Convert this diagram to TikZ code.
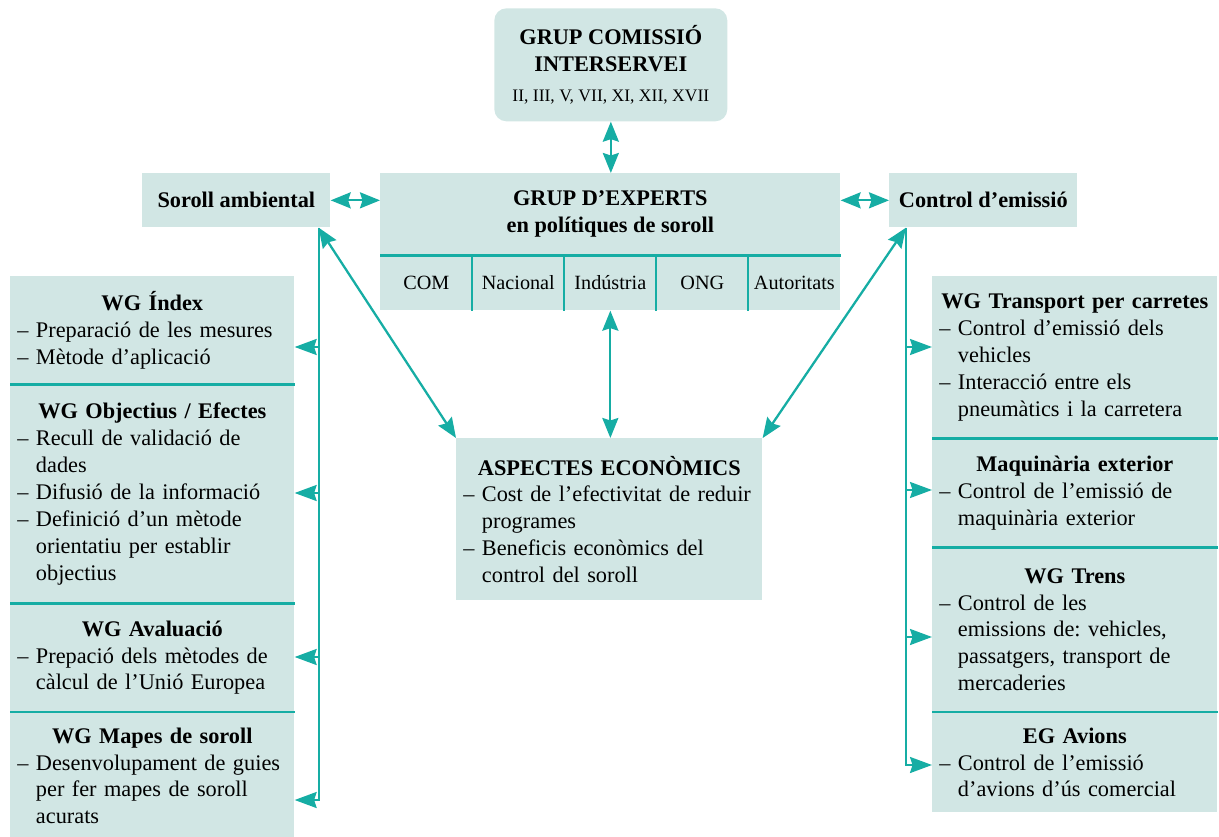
\documentclass[tikz,border=0pt]{standalone}
\usepackage{fontspec}
\setmainfont{Liberation Serif}
\usetikzlibrary{arrows.meta}
\definecolor{boxfill}{RGB}{209,230,228}
\definecolor{tealline}{RGB}{22,173,164}
\frenchspacing
\newcommand{\bodyfont}{\fontsize{12.7}{15.3}\selectfont}
\newcommand{\cellfont}{\fontsize{11.5}{14}\selectfont}
\newcommand{\romanfont}{\fontsize{10}{12}\selectfont}
\newcommand{\wgtitle}[1]{{\centering\bfseries\noindent #1\par}}
\newcommand{\wgitem}[1]{\par\noindent–\ #1}
\newcommand{\wgcont}[1]{\par\noindent\hphantom{–\ }#1}
\tikzset{
  panel/.style={fill=boxfill, inner sep=0pt, font=\bodyfont},
  headbox/.style={panel, anchor=north west, align=center, font=\bodyfont\bfseries},
  wgblock/.style={panel, anchor=north west, align=left, inner xsep=0.14cm},
  leftcol/.style={wgblock, text width=5.40cm},
  rightcol/.style={wgblock, text width=5.42cm},
  cell/.style={panel, anchor=north west, minimum width=1.84cm, minimum height=1.10cm, font=\cellfont},
  sepline/.style={draw=tealline, line width=1.6pt},
  conn/.style={color=tealline, line width=1.3pt},
  twoway/.style={conn, {Stealth[length=4mm,width=3.2mm,inset=0.5mm]}-{Stealth[length=4mm,width=3.2mm,inset=0.5mm]}},
  feed/.style={conn, -{Stealth[length=4.4mm,width=3.2mm,inset=0.5mm]}},
}

\begin{document}
\begin{tikzpicture}[x=0.02cm, y=-0.02cm]
  \useasboundingbox (0,0) rectangle (1219,837);

  % top and middle row
  \node[headbox, rounded corners=0.24cm, minimum width=4.66cm, minimum height=2.26cm] (comissio) at (494,8)
    {GRUP COMISSIÓ\\INTERSERVEI\\[2pt]{\romanfont\mdseries II, III, V, VII, XI, XII, XVII}};
  \node[headbox, minimum width=9.2cm, minimum height=1.64cm] (experts) at (380,173) {GRUP D’EXPERTS\\en polítiques de soroll};
  \node[headbox, minimum width=3.76cm, minimum height=1.08cm] (soroll) at (142,173) {Soroll ambiental};
  \node[headbox, minimum width=3.76cm, minimum height=1.08cm] (emissio) at (889,173) {Control d’emissió};
  \foreach \lbl [count=\i from 0] in {COM,Nacional,Indústria,ONG,Autoritats}
    \node[cell] (cell\i) at (380+92*\i,255) {\lbl};

  \node[wgblock, text width=5.84cm, minimum height=3.24cm] (aspectes) at (456,438)
    {\wgtitle{ASPECTES ECONÒMICS}\wgitem{Cost de l’efectivitat de reduir}\wgcont{programes}%
     \wgitem{Beneficis econòmics del}\wgcont{control del soroll}};

  % left column
  \node[leftcol, minimum height=2.16cm] (index) at (10,276)
    {\wgtitle{WG Índex}\wgitem{Preparació de les mesures}\wgitem{Mètode d’aplicació}};
  \node[leftcol, minimum height=4.36cm] (objectius) at (index.south west)
    {\wgtitle{WG Objectius / Efectes}\wgitem{Recull de validació de}\wgcont{dades}%
     \wgitem{Difusió de la informació}\wgitem{Definició d’un mètode}\wgcont{orientatiu per establir}\wgcont{objectius}};
  \node[leftcol, minimum height=2.16cm] (avaluacio) at (objectius.south west)
    {\wgtitle{WG Avaluació}\wgitem{Prepació dels mètodes de}\wgcont{càlcul de l’Unió Europea}};
  \node[leftcol, minimum height=2.54cm] (mapes) at (avaluacio.south west)
    {\wgtitle{WG Mapes de soroll}\wgitem{Desenvolupament de guies}\wgcont{per fer mapes de soroll}\wgcont{acurats}};

  % right column
  \node[rightcol, minimum height=3.24cm] (transport) at (932,276)
    {\wgtitle{WG Transport per carretes}\wgitem{Control d’emissió dels}\wgcont{vehicles}%
     \wgitem{Interacció entre els}\wgcont{pneumàtics i la carretera}};
  \node[rightcol, minimum height=2.16cm] (maquinaria) at (transport.south west)
    {\wgtitle{Maquinària exterior}\wgitem{Control de l’emissió de}\wgcont{maquinària exterior}};
  \node[rightcol, minimum height=3.28cm] (trens) at (maquinaria.south west)
    {\wgtitle{WG Trens}\wgitem{Control de les}\wgcont{emissions de: vehicles,}\wgcont{passatgers, transport de}\wgcont{mercaderies}};
  \node[rightcol, minimum height=2.00cm] (avions) at (trens.south west)
    {\wgtitle{EG Avions}\wgitem{Control de l’emissió}\wgcont{d’avions d’ús comercial}};

  % separators
  \draw[sepline] (experts.south west) -- (experts.south east);
  \foreach \i in {1,...,4}
    \draw[sepline] (cell\i.north west) -- (cell\i.south west);
  \foreach \blk in {index,objectius,avaluacio,transport,maquinaria,trens}
    \draw[sepline] (\blk.south west) -- (\blk.south east);

  % connectors
  \coordinate (ltrunk) at ([xshift=-0.24cm]soroll.south east);
  \coordinate (rtrunk) at ([xshift=0.34cm]emissio.south west);
  \draw[twoway] (comissio.south) -- (comissio.south |- experts.north);
  \draw[twoway] (soroll.east) -- (soroll.east -| experts.west);
  \draw[twoway] (emissio.west) -- (emissio.west -| experts.east);
  \draw[twoway] (cell2.south) -- (cell2.south |- aspectes.north);
  \draw[twoway] (ltrunk) -- (aspectes.north west);
  \draw[twoway] (rtrunk) -- (aspectes.north east);

  \draw[feed] (ltrunk) -- (ltrunk |- 0,800) -- (mapes.east |- 0,800);
  \foreach \blk/\yy in {index/347, objectius/493, avaluacio/657}
    \draw[feed] (ltrunk |- 0,\yy) -- (\blk.east |- 0,\yy);
  \draw[feed] (rtrunk) -- (rtrunk |- 0,765) -- (avions.west |- 0,765);
  \foreach \blk/\yy in {transport/347, maquinaria/490, trens/637}
    \draw[feed] (rtrunk |- 0,\yy) -- (\blk.west |- 0,\yy);
\end{tikzpicture}
\end{document}
